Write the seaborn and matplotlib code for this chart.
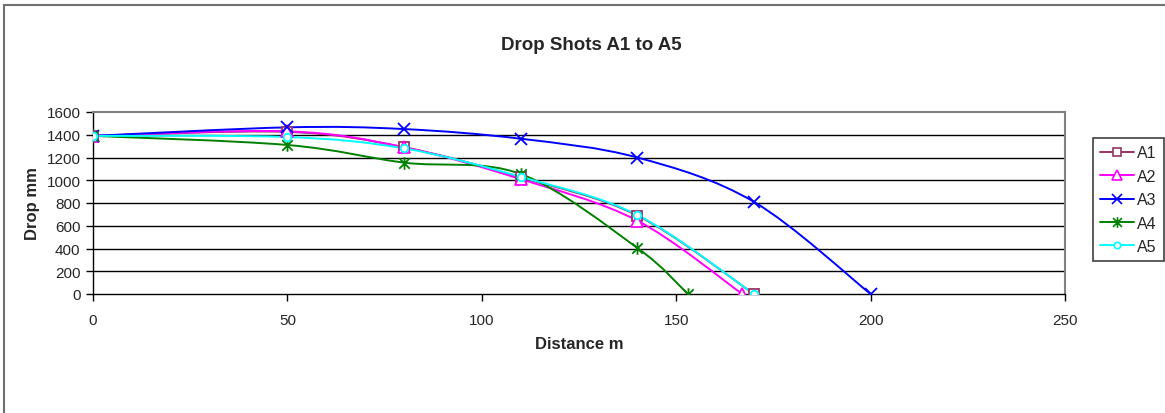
import numpy as np
import pandas as pd
import matplotlib
matplotlib.use("Agg")
import matplotlib.pyplot as plt
import seaborn as sns
from matplotlib.path import Path
from matplotlib.patches import PathPatch, Rectangle
from matplotlib.lines import Line2D

# ---- data ----
series = ["A1", "A2", "A3", "A4", "A5"]
dist_a1 = [0, 50, 80, 110, 140, 170]
drop_a1 = [1390, 1425, 1290, 1025, 690, 0]
dist_a2 = [0, 50, 80, 110, 140, 167]
drop_a2 = [1390, 1430, 1290, 1010, 645, 0]
dist_a3 = [0, 50, 80, 110, 140, 170, 200]
drop_a3 = [1390, 1465, 1450, 1365, 1200, 810, 0]
dist_a4 = [0, 50, 80, 110, 140, 153]
drop_a4 = [1390, 1310, 1155, 1055, 405, 0]
dist_a5 = [0, 50, 80, 110, 140, 170]
drop_a5 = [1390, 1380, 1280, 1030, 695, 0]
x_ticks = [0, 50, 100, 150, 200, 250]
y_ticks = [0, 200, 400, 600, 800, 1000, 1200, 1400, 1600]

dists = [dist_a1, dist_a2, dist_a3, dist_a4, dist_a5]
drops = [drop_a1, drop_a2, drop_a3, drop_a4, drop_a5]
df = pd.concat([pd.DataFrame({"Distance": d, "Drop": v, "Series": s})
                for s, d, v in zip(series, dists, drops)], ignore_index=True)

asterisk = Path([(-1, -1), (1, 1), (-1, 1), (1, -1), (0, -1.2), (0, 1.2)],
                [Path.MOVETO, Path.LINETO, Path.MOVETO, Path.LINETO, Path.MOVETO, Path.LINETO])

colors = {"A1": "#993366", "A2": "#FF00FF", "A3": "#0000FF", "A4": "#008000", "A5": "#00FFFF"}
markers = {"A1": "s", "A2": "^", "A3": "x", "A4": asterisk, "A5": "o"}
msizes = {"A1": 7, "A2": 8, "A3": 9, "A4": 9, "A5": 5.5}
hollow = {"A1": True, "A2": True, "A3": False, "A4": False, "A5": True}

sns.set_theme(style="white")
plt.rcParams["font.family"] = ["Liberation Sans", "DejaVu Sans"]

fig = plt.figure(figsize=(11.65, 4.14), dpi=100)
fig.patch.set_facecolor("white")
fig.add_artist(Rectangle((4 / 1165, -0.1), 1.2, 1 - 6 / 414 + 0.1, transform=fig.transFigure,
                         fill=False, edgecolor="#707070", lw=1.5))
ax = fig.add_axes([93 / 1165, 1 - 295 / 414, (1065 - 93) / 1165, (295 - 113) / 414])


def smooth_path(x, y):
    pts = np.column_stack([x, y]).astype(float)
    n = len(pts)
    verts = [pts[0]]
    codes = [Path.MOVETO]
    for i in range(n - 1):
        p0 = pts[i - 1] if i > 0 else pts[i]
        p1 = pts[i]
        p2 = pts[i + 1]
        p3 = pts[i + 2] if i + 2 < n else pts[i + 1]
        c1 = p1 + (p2 - p0) / 6.0
        c2 = p2 - (p3 - p1) / 6.0
        verts += [c1, c2, p2]
        codes += [Path.CURVE4] * 3
    return Path(verts, codes)


for s in series:
    sub = df[df["Series"] == s]
    c = colors[s]
    ax.add_patch(PathPatch(smooth_path(sub["Distance"].values, sub["Drop"].values),
                           fill=False, edgecolor=c, lw=1.4, zorder=3))
    sns.lineplot(data=sub, x="Distance", y="Drop", ax=ax, color=c, lw=0,
                 marker=markers[s], markersize=msizes[s],
                 markerfacecolor="white" if hollow[s] else c,
                 markeredgecolor=c, markeredgewidth=1.3, zorder=4, legend=False)

ax.set_xlim(0, 250)
ax.set_ylim(0, 1600)
ax.set_xticks(x_ticks)
ax.set_yticks(y_ticks)
ax.set_xticklabels([str(t) for t in x_ticks], fontsize=11)
ax.set_yticklabels([str(t) for t in y_ticks], fontsize=11)
ax.tick_params(axis="both", direction="out", length=5, width=1, color="black",
               bottom=True, left=True)
ax.tick_params(axis="x", pad=9)
ax.tick_params(axis="y", pad=4)
for yv in y_ticks[1:-1]:
    ax.axhline(yv, color="black", lw=1, zorder=1)
for side in ["top", "right"]:
    ax.spines[side].set_color("#808080")
    ax.spines[side].set_linewidth(1.5)
for side in ["left", "bottom"]:
    ax.spines[side].set_color("black")
    ax.spines[side].set_linewidth(1)
ax.set_xlabel("Distance m", fontsize=12, fontweight="bold", labelpad=6)
ax.set_ylabel("Drop mm", fontsize=12, fontweight="bold", labelpad=5)

fig.text(591 / 1165, 1 - 45 / 414, "Drop Shots A1 to A5", ha="center", va="center",
         fontsize=13.5, fontweight="bold")

handles = [Line2D([0], [0], color=colors[s], lw=1.4, marker=markers[s],
                  markersize=msizes[s] * 0.85,
                  markerfacecolor="white" if hollow[s] else colors[s],
                  markeredgecolor=colors[s], markeredgewidth=1.2) for s in series]
leg = fig.legend(handles, series, loc="upper left",
                 bbox_to_anchor=(1093 / 1165, 1 - 139 / 414), fontsize=11.5,
                 frameon=True, fancybox=False, framealpha=1, edgecolor="#404040",
                 handlelength=2.1, handletextpad=0.2, labelspacing=0.53,
                 borderpad=0.45, borderaxespad=0)
leg.get_frame().set_linewidth(1.2)

fig.savefig("out.png", dpi=100, facecolor="white")
